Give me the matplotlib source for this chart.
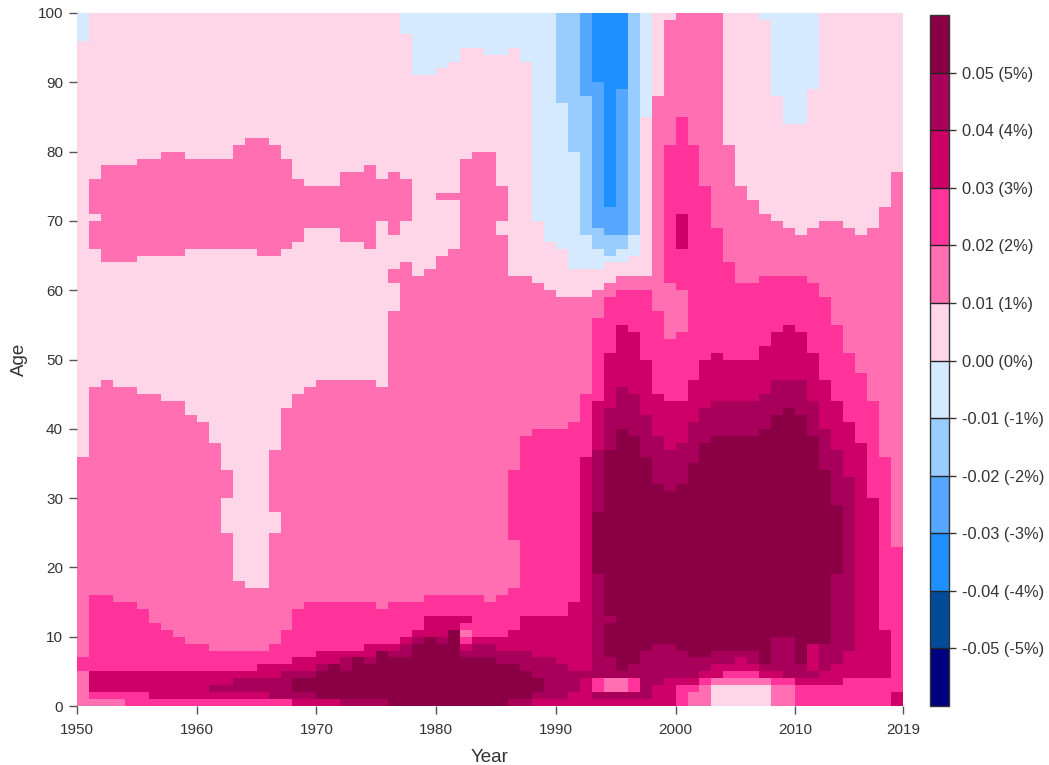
import numpy as np
import matplotlib
matplotlib.use("Agg")
import matplotlib.pyplot as plt
from matplotlib.colors import ListedColormap, BoundaryNorm

plt.rcParams['font.family'] = ['Liberation Sans', 'DejaVu Sans']

# one row per year: (band, age where the band stops), read from the bottom up
# band n means the value lies between n-1 % and n %
runs_1950s = [
    [(2,5),(3,7),(2,36),(1,96),(0,100)],
    [(2,1),(3,2),(4,5),(3,16),(2,46),(1,66),(2,70),(1,71),(2,76),(1,100)],
    [(2,1),(3,2),(4,5),(3,16),(2,47),(1,64),(2,78),(1,100)],
    [(2,1),(3,2),(4,5),(3,15),(2,46),(1,64),(2,78),(1,100)],
    [(3,2),(4,5),(3,15),(2,46),(1,64),(2,78),(1,100)],
    [(3,2),(4,5),(3,14),(2,45),(1,65),(2,79),(1,100)],
    [(3,1),(4,5),(3,12),(2,45),(1,65),(2,79),(1,100)],
    [(3,1),(4,5),(3,11),(2,44),(1,65),(2,80),(1,100)],
    [(3,1),(4,5),(3,10),(2,44),(1,65),(2,80),(1,100)],
    [(3,1),(4,5),(3,9),(2,42),(1,66),(2,79),(1,100)],
]
runs_1960s = [
    [(3,1),(4,5),(3,9),(2,41),(1,66),(2,79),(1,100)],
    [(3,1),(4,2),(5,3),(4,5),(3,8),(2,38),(1,66),(2,79),(1,100)],
    [(3,1),(4,2),(5,3),(4,5),(3,8),(2,25),(1,30),(2,34),(1,66),(2,79),(1,100)],
    [(3,1),(4,2),(5,4),(4,5),(3,8),(2,18),(1,66),(2,81),(1,100)],
    [(3,1),(4,2),(5,4),(4,5),(3,8),(2,17),(1,66),(2,82),(1,100)],
    [(3,1),(4,2),(5,4),(4,6),(3,8),(2,17),(1,65),(2,82),(1,100)],
    [(3,1),(5,4),(4,6),(3,9),(2,25),(1,28),(2,37),(1,65),(2,81),(1,100)],
    [(3,1),(5,5),(4,6),(3,11),(2,43),(1,66),(2,79),(1,100)],
    [(4,1),(5,2),(6,4),(5,5),(4,7),(3,14),(2,45),(1,67),(2,76),(1,100)],
    [(4,1),(5,2),(6,4),(5,5),(4,7),(3,15),(2,46),(1,69),(2,75),(1,100)],
]
runs_1970s = [
    [(4,1),(6,5),(5,6),(4,8),(3,15),(2,47),(1,69),(2,75),(1,100)],
    [(4,1),(6,6),(4,8),(3,15),(2,47),(1,69),(2,75),(1,100)],
    [(5,1),(6,5),(5,7),(4,8),(3,15),(2,47),(1,67),(2,77),(1,100)],
    [(5,1),(6,7),(4,8),(3,15),(2,47),(1,67),(2,77),(1,100)],
    [(5,1),(6,6),(5,7),(4,9),(3,15),(2,47),(1,66),(2,78),(1,100)],
    [(5,1),(6,8),(4,9),(3,14),(2,46),(1,70),(2,76),(1,100)],
    [(6,7),(5,8),(4,9),(3,15),(2,57),(1,61),(2,63),(1,68),(2,77),(1,100)],
    [(6,7),(5,9),(4,10),(3,15),(2,64),(1,70),(2,76),(1,97),(0,100)],
    [(6,9),(5,10),(4,11),(3,15),(2,62),(1,91),(0,100)],
    [(6,10),(4,13),(3,16),(2,63),(1,91),(0,100)],
]
runs_1980s = [
    [(6,9),(5,10),(4,13),(3,16),(2,65),(1,73),(2,74),(1,92),(0,100)],
    [(6,11),(4,13),(3,16),(2,66),(1,73),(2,74),(1,93),(0,100)],
    [(6,7),(5,8),(4,9),(3,10),(2,11),(3,12),(4,13),(3,16),(2,79),(1,95),(0,100)],
    [(6,7),(5,9),(4,10),(3,16),(2,80),(1,95),(0,100)],
    [(6,7),(5,9),(4,10),(3,15),(2,80),(1,94),(0,100)],
    [(6,6),(5,8),(4,10),(3,16),(2,68),(1,70),(2,75),(1,94),(0,100)],
    [(5,1),(6,6),(5,8),(4,11),(3,17),(2,24),(3,34),(2,62),(1,95),(0,100)],
    [(5,1),(6,5),(5,8),(4,13),(3,39),(2,62),(1,93),(0,100)],
    [(4,1),(5,2),(6,4),(5,7),(4,13),(3,40),(2,61),(1,70),(0,100)],
    [(4,1),(5,7),(4,13),(3,40),(2,60),(1,67),(0,100)],
]
runs_1990s = [
    [(4,1),(5,6),(4,13),(3,40),(2,59),(1,66),(0,87),(-1,100)],
    [(4,2),(5,5),(4,15),(3,41),(2,59),(1,63),(0,80),(-1,100)],
    [(4,4),(5,5),(4,36),(3,45),(2,59),(1,63),(0,68),(-1,88),(-2,100)],
    [(4,1),(5,2),(3,4),(5,19),(6,28),(5,37),(4,44),(3,56),(2,60),(1,63),(0,66),(-1,69),(-2,90),(-3,100)],
    [(4,1),(5,2),(2,4),(5,7),(6,12),(5,13),(6,37),(5,43),(4,51),(3,59),(2,61),(1,64),(0,65),(-1,68),(-2,72),(-3,100)],
    [(4,1),(5,2),(2,4),(5,5),(6,40),(5,46),(4,55),(3,60),(2,62),(1,64),(0,66),(-1,68),(-2,89),(-3,100)],
    [(4,1),(5,2),(3,4),(5,6),(6,39),(5,45),(4,54),(3,60),(2,62),(1,65),(0,68),(-1,100)],
    [(4,1),(5,8),(6,36),(5,42),(4,50),(3,60),(2,62),(1,85),(0,100)],
    [(4,3),(5,9),(6,32),(5,39),(4,45),(3,57),(2,88),(1,100)],
    [(4,4),(5,9),(6,31),(5,37),(4,44),(3,53),(2,61),(3,81),(2,99),(1,100)],
]
runs_2000s = [
    [(3,3),(4,4),(5,8),(6,32),(5,38),(4,44),(3,54),(2,60),(3,66),(4,71),(3,85),(2,100)],
    [(2,2),(3,3),(4,4),(5,7),(6,35),(5,41),(4,47),(3,81),(2,100)],
    [(2,3),(3,4),(4,5),(5,7),(6,38),(5,43),(4,50),(3,75),(2,100)],
    [(1,3),(2,4),(4,6),(5,8),(6,39),(5,44),(4,51),(3,69),(2,100)],
    [(1,3),(2,4),(3,5),(4,6),(5,8),(6,39),(5,44),(4,50),(3,64),(2,81),(1,100)],
    [(1,3),(2,4),(3,5),(4,7),(5,8),(6,39),(5,44),(4,50),(3,61),(2,75),(1,100)],
    [(1,3),(2,4),(3,5),(4,6),(5,8),(6,39),(5,44),(4,50),(3,61),(2,73),(1,100)],
    [(1,3),(2,4),(4,5),(5,6),(6,40),(5,45),(4,52),(3,62),(2,71),(1,99),(0,100)],
    [(2,3),(3,4),(4,5),(5,10),(6,42),(5,47),(4,54),(3,62),(2,70),(1,88),(0,100)],
    [(2,3),(3,4),(5,10),(6,43),(5,47),(4,55),(3,62),(2,69),(1,84),(0,100)],
]
runs_2010s = [
    [(3,3),(4,4),(5,6),(6,42),(5,47),(4,54),(3,62),(2,68),(1,84),(0,100)],
    [(3,3),(4,4),(5,5),(4,9),(6,39),(5,44),(4,51),(3,61),(2,69),(1,89),(0,100)],
    [(3,3),(4,5),(5,9),(6,34),(5,40),(4,47),(3,59),(2,70),(1,100)],
    [(3,3),(4,6),(5,19),(6,29),(5,37),(4,44),(3,55),(2,70),(1,100)],
    [(3,4),(4,8),(5,33),(4,41),(3,51),(2,69),(1,100)],
    [(3,4),(4,38),(3,48),(2,68),(1,100)],
    [(3,4),(4,30),(3,44),(2,69),(1,100)],
    [(3,4),(4,11),(3,36),(2,72),(1,100)],
    [(4,2),(3,23),(2,77),(1,100)],
]

years = np.arange(1950, 2020)
ages = np.arange(0, 101)
year_ticks = [1950, 1960, 1970, 1980, 1990, 2000, 2010, 2019]
age_ticks = np.arange(0, 101, 10)
levels = [-0.06, -0.05, -0.04, -0.03, -0.02, -0.01, 0.0, 0.01, 0.02, 0.03, 0.04, 0.05, 0.06]
colors = ['#000080', '#004C99', '#1E90FF', '#55A7FF', '#99CCFF', '#D6EAFF',
          '#FFD6E8', '#FF6FB1', '#FF3399', '#CC0066', '#A8005A', '#8B0045']
bar_ticks = [0.05, 0.04, 0.03, 0.02, 0.01, 0.0, -0.01, -0.02, -0.03, -0.04, -0.05]

all_runs = runs_1950s + runs_1960s + runs_1970s + runs_1980s + runs_1990s + runs_2000s + runs_2010s
rates = np.zeros((len(ages) - 1, len(years) - 1))
for j, col in enumerate(all_runs):
    start = 0
    for band, stop in col:
        rates[start:stop, j] = (band - 0.5) / 100.
        start = stop

W, H = 1049., 765.
fig = plt.figure(figsize=(W / 100, H / 100), dpi=100)
ax = fig.add_axes([77 / W, 1 - 706 / H, 826 / W, 693 / H])
cmap = ListedColormap(colors)
norm = BoundaryNorm(levels, cmap.N)
mesh = ax.pcolormesh(years, ages, rates, cmap=cmap, norm=norm, antialiased=False, linewidth=0)

ax.set_xlim(1950, 2019)
ax.set_ylim(0, 100)
ax.set_xticks(year_ticks)
ax.set_yticks(age_ticks)
for s in ax.spines.values():
    s.set_visible(False)
ax.tick_params(axis='both', length=6, width=1, color='#555555', labelcolor='#333333', labelsize=11, pad=4)
ax.tick_params(axis='x', pad=6)
ax.set_xlabel('Year', fontsize=13.5, color='#333333', labelpad=9)
ax.set_ylabel('Age', fontsize=13.5, color='#333333', labelpad=7)

cax = fig.add_axes([930 / W, 1 - 706 / H, 19 / W, 691 / H])
cb = fig.colorbar(mesh, cax=cax, ticks=bar_ticks, drawedges=True, spacing='uniform')
cb.ax.minorticks_off()
cb.ax.set_yticklabels(['%.2f (%d%%)' % (t, round(t * 100)) for t in bar_ticks])
cb.ax.tick_params(length=5, width=1, color='#333333', labelcolor='#333333', labelsize=11.8, pad=4)
cb.dividers.set_color('#222222')
cb.dividers.set_linewidth(1)
cb.outline.set_edgecolor('#333333')
cb.outline.set_linewidth(1)

fig.savefig('out.png', dpi=100)
